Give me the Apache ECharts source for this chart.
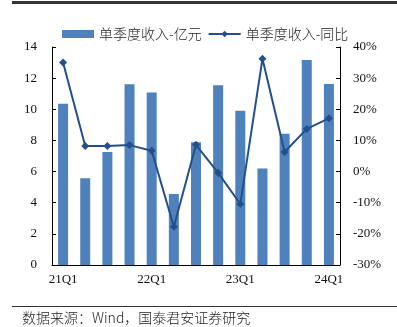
<!DOCTYPE html>
<html>
<head>
<meta charset="utf-8">
<script src="https://cdn.jsdelivr.net/npm/echarts@6/dist/echarts.min.js"></script>
<style>
  html, body { margin: 0; padding: 0; background: #fff; }
  #chart { width: 397px; height: 327px; }
</style>
</head>
<body>
<div id="chart"></div>
<script>
// Quarterly revenue (100m CNY) and YoY growth (%)
const quarters = ['21Q1','21Q2','21Q3','21Q4','22Q1','22Q2','22Q3','22Q4','23Q1','23Q2','23Q3','23Q4','24Q1'];
const revenue = [10.35, 5.57, 7.26, 11.6, 11.08, 4.56, 7.88, 11.54, 9.91, 6.19, 8.43, 13.17, 11.62];
const yoy = [35.0, 8.2, 8.2, 8.5, 6.7, -17.7, 8.6, -0.4, -10.4, 36.2, 6.3, 13.7, 17.1];
const leftTicks = { min: 0, max: 14, interval: 2 };
const rightTicks = { min: -30, max: 40, interval: 10 };

const serif = '"Liberation Serif", "Times New Roman", serif';
const cjk = '"Noto Sans CJK SC", sans-serif';

const chart = echarts.init(document.getElementById('chart'));
chart.setOption({
  animation: false,
  textStyle: { fontFamily: serif },
  grid: { left: 52, right: 57, top: 47, bottom: 62 },
  legend: {
    top: 22,
    left: 57,
    itemGap: 6,
    itemWidth: 32,
    itemHeight: 8,
    textStyle: { fontFamily: cjk, fontSize: 14, fontWeight: 300, color: '#222' },
    data: [
      { name: '单季度收入-亿元', icon: 'rect' },
      { name: '单季度收入-同比' }
    ]
  },
  xAxis: {
    type: 'category',
    data: quarters,
    boundaryGap: true,
    axisLine: { lineStyle: { color: '#000', width: 1 } },
    axisTick: { inside: true, length: 4, interval: 0, lineStyle: { color: '#000' } },
    axisLabel: {
      interval: 3,
      fontFamily: serif,
      fontSize: 13,
      color: '#111',
      margin: 8
    }
  },
  yAxis: [
    {
      type: 'value',
      min: leftTicks.min, max: leftTicks.max, interval: leftTicks.interval,
      axisLine: { show: true, lineStyle: { color: '#000' } },
      axisTick: { show: true, inside: true, length: 4, lineStyle: { color: '#000' } },
      splitLine: { show: false },
      axisLabel: { fontFamily: serif, fontSize: 13, color: '#111', margin: 15 }
    },
    {
      type: 'value',
      min: rightTicks.min, max: rightTicks.max, interval: rightTicks.interval,
      axisLine: { show: true, lineStyle: { color: '#000' } },
      axisTick: { show: true, inside: true, length: 4, lineStyle: { color: '#000' } },
      splitLine: { show: false },
      axisLabel: { fontFamily: serif, fontSize: 13, color: '#111', margin: 13, formatter: '{value}%' }
    }
  ],
  series: [
    {
      name: '单季度收入-亿元',
      type: 'bar',
      data: revenue,
      barWidth: 10,
      itemStyle: { color: '#4F81BD' }
    },
    {
      name: '单季度收入-同比',
      type: 'line',
      yAxisIndex: 1,
      data: yoy,
      symbol: 'diamond',
      symbolSize: 8,
      lineStyle: { color: '#23508C', width: 2 },
      itemStyle: { color: '#23508C' }
    }
  ],
  graphic: [
    { type: 'rect', shape: { x: 12, y: 1, width: 385, height: 3 }, style: { fill: '#333' } },
    { type: 'rect', shape: { x: 12, y: 306, width: 385, height: 1 }, style: { fill: '#333' } },
    {
      type: 'text', left: 22, top: 311,
      style: { text: '数据来源：Wind，国泰君安证券研究', font: '300 14px ' + cjk, fill: '#222' }
    }
  ]
});
</script>
</body>
</html>
